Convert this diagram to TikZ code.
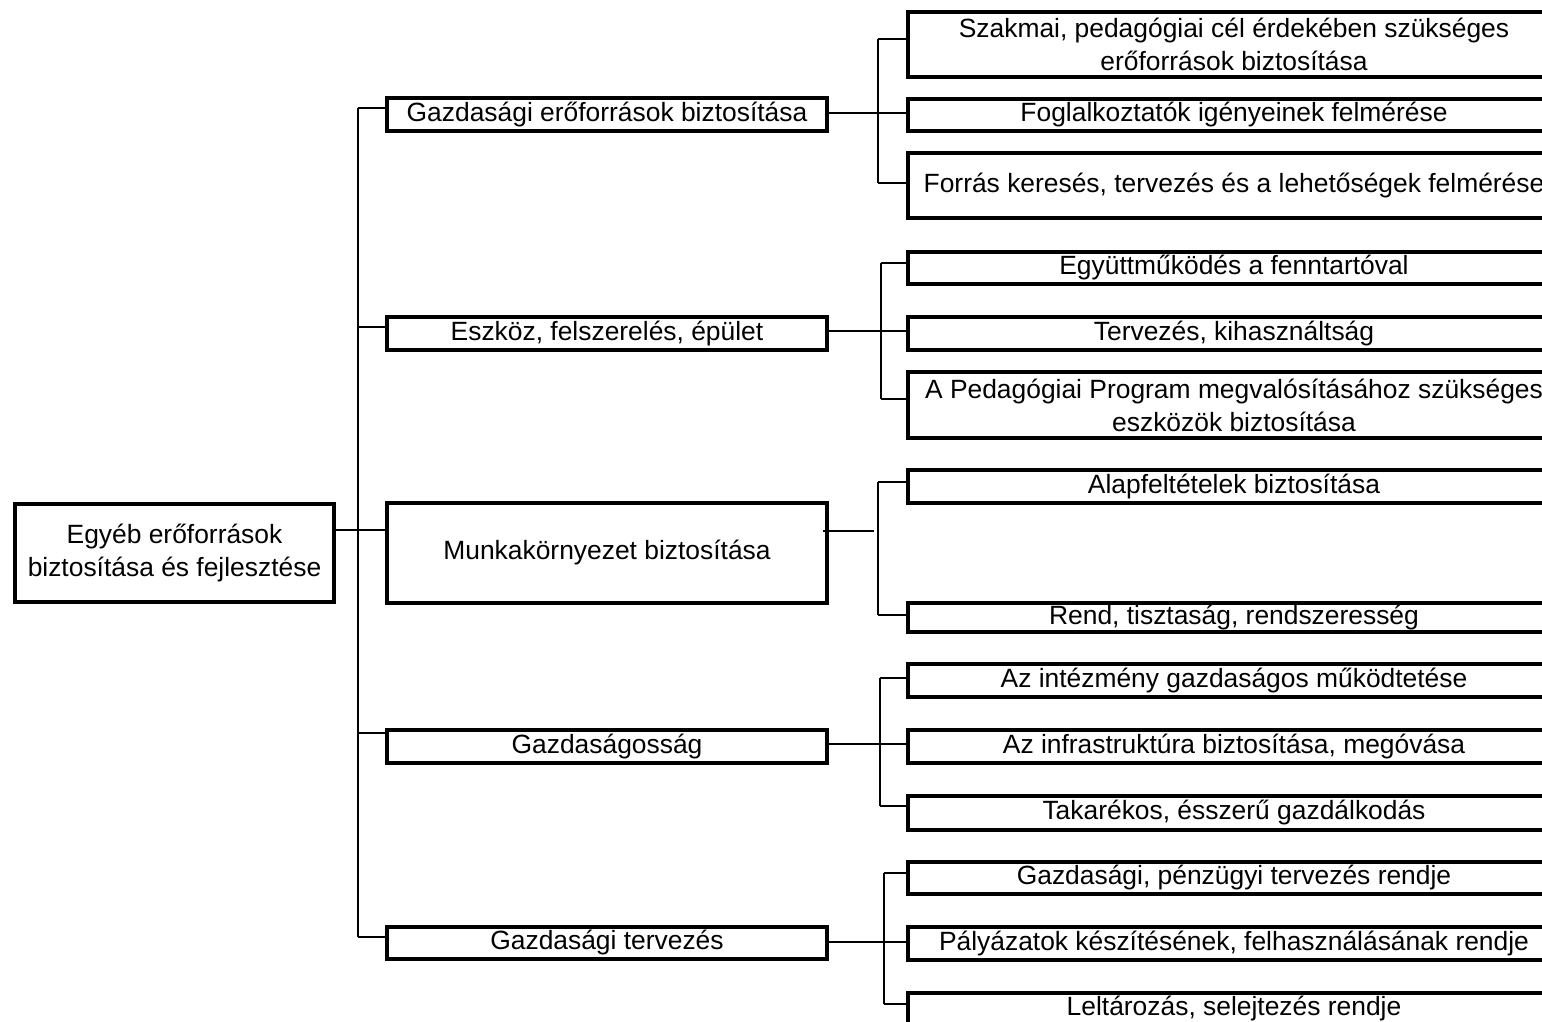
\documentclass[tikz,border=0pt]{standalone}
\usepackage{fontspec}
\setmainfont{Liberation Sans}
\begin{document}
\begin{tikzpicture}[x=1pt,y=-1pt,
  box/.style={draw, line width=3.3pt, rectangle, inner sep=0pt, outer sep=0pt,
    anchor=north west, align=center, font=\fontsize{26.4}{33}\selectfont},
  midbox/.style={box, minimum width=440pt},
  leafbox/.style={box, minimum width=652pt},
  link/.style={line width=1.5pt}]
\useasboundingbox (0,0) rectangle (1542,1022);

% root
\node[box, minimum width=319pt, minimum height=98pt] (root) at (15,504)
  {Egyéb erőforrások\\biztosítása és fejlesztése};

% second level
\node[midbox, minimum height=33pt]  (a) at (387,98)  {Gazdasági erőforrások biztosítása};
\node[midbox, minimum height=33pt]  (b) at (387,317) {Eszköz, felszerelés, épület};
\node[midbox, minimum height=100pt] (c) at (387,503) {Munkakörnyezet biztosítása};
\node[midbox, minimum height=33pt]  (d) at (387,730) {Gazdaságosság};
\node[midbox, minimum height=32pt]  (e) at (387,927) {Gazdasági tervezés};

% third level
\node[leafbox, minimum height=65pt] (a1) at (908,12)
  {Szakmai, pedagógiai cél érdekében szükséges\\erőforrások biztosítása};
\node[leafbox, minimum height=32pt] (a2) at (908,99)  {Foglalkoztatók igényeinek felmérése};
\node[leafbox, minimum height=65pt] (a3) at (908,153) {Forrás keresés, tervezés és a lehetőségek felmérése};

\node[leafbox, minimum height=32pt] (b1) at (908,252) {Együttműködés a fenntartóval};
\node[leafbox, minimum height=33pt] (b2) at (908,317) {Tervezés, kihasználtság};
\node[leafbox, minimum height=66pt] (b3) at (908,372)
  {A Pedagógiai Program megvalósításához szükséges\\eszközök biztosítása};

\node[leafbox, minimum height=33pt] (c1) at (908,470) {Alapfeltételek biztosítása};
\node[leafbox, minimum height=29pt] (c2) at (908,603) {Rend, tisztaság, rendszeresség};

\node[leafbox, minimum height=33pt] (d1) at (908,664) {Az intézmény gazdaságos működtetése};
\node[leafbox, minimum height=33pt] (d2) at (908,730) {Az infrastruktúra biztosítása, megóvása};
\node[leafbox, minimum height=34pt] (d3) at (908,796) {Takarékos, ésszerű gazdálkodás};

\node[leafbox, minimum height=32pt] (e1) at (908,862) {Gazdasági, pénzügyi tervezés rendje};
\node[leafbox, minimum height=33pt] (e2) at (908,927) {Pályázatok készítésének, felhasználásának rendje};
\node[leafbox, minimum height=31pt] (e3) at (908,993) {Leltározás, selejtezés rendje};

% trunk from the root
\coordinate (ta) at (358,108);
\coordinate (tb) at (358,327);
\coordinate (tc) at (358,530);
\coordinate (td) at (358,733);
\coordinate (te) at (358,937);
\draw[link] (ta) -- (te);
\draw[link] (root.east |- tc) -- (c.west |- tc);
\draw[link] (ta) -- (a.west |- ta);
\draw[link] (tb) -- (b.west |- tb);
\draw[link] (td) -- (d.west |- td);
\draw[link] (te) -- (e.west |- te);

% group a
\coordinate (ja1) at (878,39);
\coordinate (ja)  at (878,113);
\coordinate (ja3) at (878,183);
\draw[link] (ja1) -- (ja3);
\draw[link] (ja1) -- (a1.west |- ja1);
\draw[link] (a.east |- ja) -- (a2.west |- ja);
\draw[link] (ja3) -- (a3.west |- ja3);

% group b
\coordinate (jb1) at (881,263);
\coordinate (jb)  at (881,331);
\coordinate (jb3) at (881,399);
\draw[link] (jb1) -- (jb3);
\draw[link] (jb1) -- (b1.west |- jb1);
\draw[link] (b.east |- jb) -- (b2.west |- jb);
\draw[link] (jb3) -- (b3.west |- jb3);

% group c
\coordinate (jc1) at (878,482);
\coordinate (jc)  at (874,531);
\coordinate (jc2) at (878,615);
\draw[link] (jc1) -- (jc2);
\draw[link] (jc1) -- (c1.west |- jc1);
\draw[link] (jc2) -- (c2.west |- jc2);
\draw[link] ([xshift=-4pt]c.east |- jc) -- (jc);

% group d
\coordinate (jd1) at (880,678);
\coordinate (jd)  at (880,744);
\coordinate (jd3) at (880,806);
\draw[link] (jd1) -- (jd3);
\draw[link] (jd1) -- (d1.west |- jd1);
\draw[link] (d.east |- jd) -- (d2.west |- jd);
\draw[link] (jd3) -- (d3.west |- jd3);

% group e
\coordinate (je1) at (884,873);
\coordinate (je)  at (884,942);
\coordinate (je3) at (884,1004);
\draw[link] (je1) -- (je3);
\draw[link] (je1) -- (e1.west |- je1);
\draw[link] (e.east |- je) -- (e2.west |- je);
\draw[link] (je3) -- (e3.west |- je3);
\end{tikzpicture}
\end{document}
